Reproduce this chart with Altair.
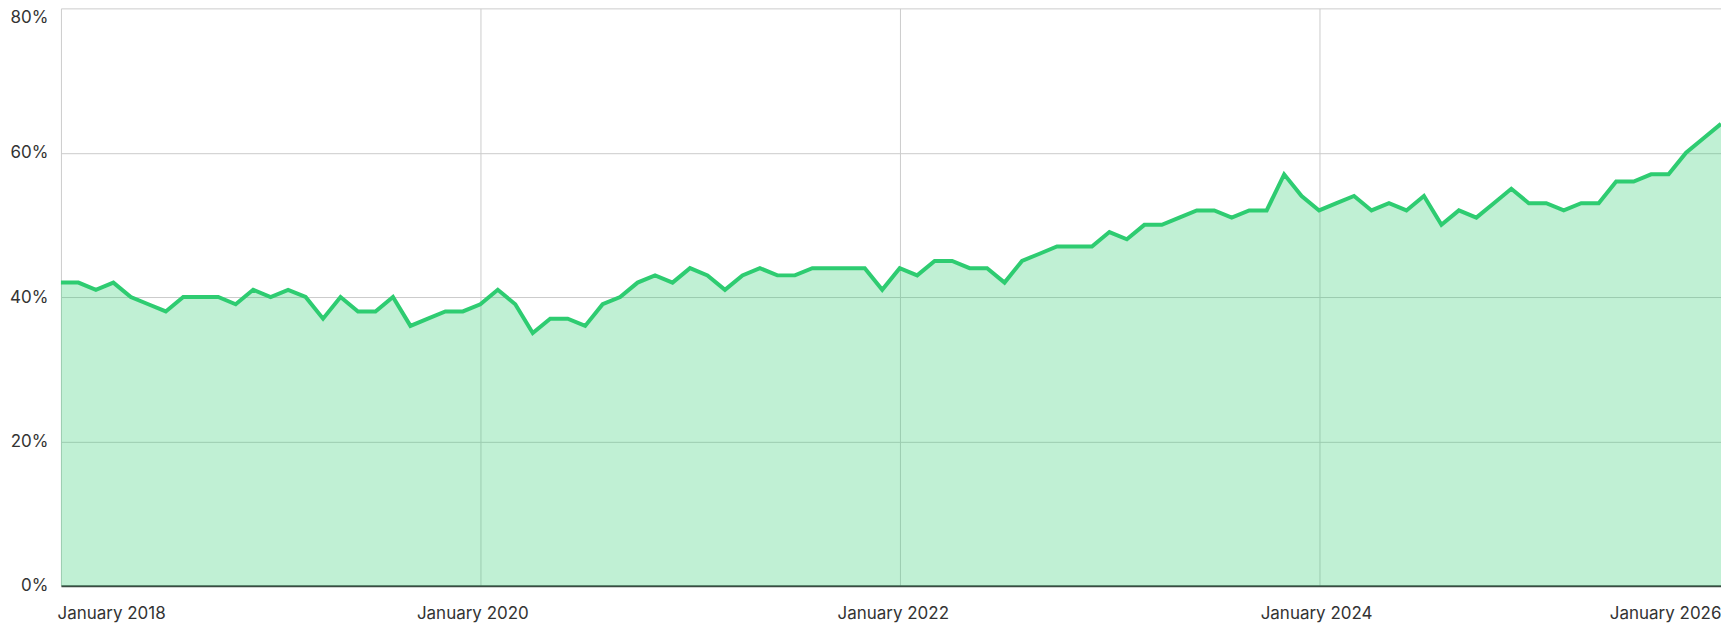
import altair as alt
import pandas as pd

# Monthly share (%) from January 2018 to December 2025
share = [42, 42, 41, 42, 40, 39, 38, 40, 40, 40, 39, 41, 40, 41, 40, 37, 40, 38, 38, 40, 36, 37, 38, 38,
         39, 41, 39, 35, 37, 37, 36, 39, 40, 42, 43, 42, 44, 43, 41, 43, 44, 43, 43, 44, 44, 44, 44, 41,
         44, 43, 45, 45, 44, 44, 42, 45, 46, 47, 47, 47, 49, 48, 50, 50, 51, 52, 52, 51, 52, 52, 57, 54,
         52, 53, 54, 52, 53, 52, 54, 50, 52, 51, 53, 55, 53, 53, 52, 53, 53, 56, 56, 57, 57, 60, 62, 64]

months = [f"{2018 + k // 12}-{k % 12 + 1:02d}" for k in range(len(share))]

tick_pos = [0, 24, 48, 72, 95]
tick_labels = ["January 2018", "January 2020", "January 2022", "January 2024", "January 2026"]
y_ticks = [0, 0.2, 0.4, 0.6, 0.8]

GREEN = "#2ecc71"
FONT = "Inter"

df = pd.DataFrame({
    "i": list(range(len(share))),
    "month": months,
    "share": [v / 100 for v in share],
})

label_expr = "''"
for p, l in reversed(list(zip(tick_pos, tick_labels))):
    label_expr = f"datum.value == {p} ? '{l}' : ({label_expr})"

last = tick_pos[-1]

x_axis = alt.Axis(
    values=tick_pos,
    labelExpr=label_expr,
    title=None,
    grid=True,
    gridColor="#cccccc",
    gridOpacity={"condition": {"test": f"datum.value == {last}", "value": 0}, "value": 1},
    ticks=False,
    tickSize=0,
    labelPadding=28,
    domainColor="#3b4a42",
    domainWidth=2,
    labelAlign={"condition": [
        {"test": "datum.value == 0", "value": "left"},
        {"test": f"datum.value == {last}", "value": "right"},
    ], "value": "center"},
    labelOffset={"condition": [
        {"test": "datum.value == 0", "value": -4},
        {"test": "datum.value == 24", "value": -8},
        {"test": "datum.value == 48", "value": -7},
        {"test": "datum.value == 72", "value": -3},
    ], "value": 0},
    labelFont=FONT,
    labelFontSize=17,
    labelColor="#333333",
    labelBaseline="middle",
)

y_axis = alt.Axis(
    values=y_ticks,
    format=".0%",
    title=None,
    grid=True,
    gridColor="#cccccc",
    ticks=False,
    tickSize=0,
    domain=False,
    labelPadding=13,
    labelFont=FONT,
    labelFontSize=17,
    labelColor="#333333",
    labelBaseline="middle",
    labelOffset={"condition": {"test": "datum.value >= 0.8", "value": 9}, "value": 0},
)

x = alt.X("i:Q", scale=alt.Scale(domain=[0, len(share) - 1], nice=False, zero=False), axis=x_axis)
y = alt.Y("share:Q", scale=alt.Scale(domain=[0, 0.8], nice=False), axis=y_axis)

base = alt.Chart(df)
area = base.mark_area(color=GREEN, fillOpacity=0.3, opacity=1).encode(x=x, y=y)
line = base.mark_line(color=GREEN, strokeWidth=4).encode(x="i:Q", y="share:Q")

chart = alt.layer(area, line).properties(
    width=1662,
    height=578,
    autosize=alt.AutoSizeParams(type="none"),
    padding={"left": 53, "top": 0, "right": 0, "bottom": 40},
).configure_view(stroke=None)

chart.save("out.html", embed_options={"renderer": "svg", "actions": False})
